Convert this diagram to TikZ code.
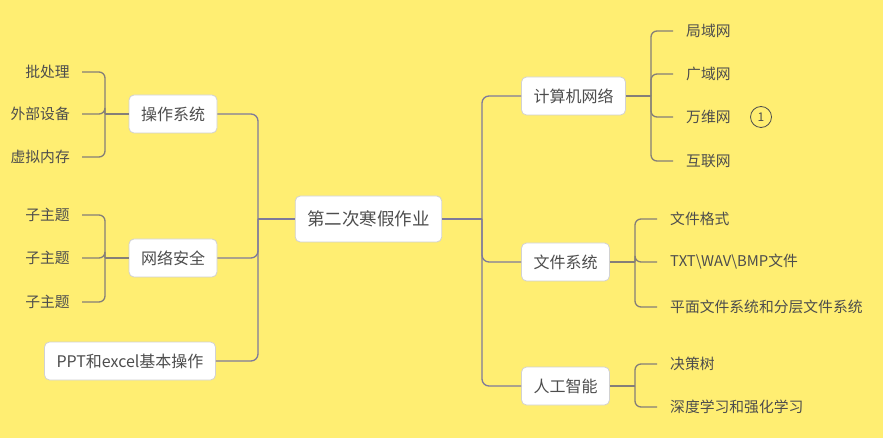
\documentclass[tikz,border=0pt]{standalone}
\usepackage{fontspec}
\setmainfont{Noto Sans CJK SC}
\definecolor{bgyellow}{HTML}{FFEE72}
\definecolor{txtgray}{HTML}{4D4D4D}
\definecolor{mainline}{HTML}{7E7A9A}
\definecolor{leafline}{HTML}{857F78}
\tikzset{
  topic/.style={draw=black!18,fill=white,rounded corners=5pt,line width=.8pt,
    text=txtgray,inner xsep=12pt,minimum height=38pt,font=\fontsize{16}{19}\selectfont},
  roottopic/.style={topic,minimum height=46pt,font=\fontsize{17.5}{20}\selectfont},
  leafE/.style={anchor=east,text=txtgray,inner xsep=12pt,font=\fontsize{14.8}{17}\selectfont},
  leafW/.style={anchor=west,text=txtgray,inner xsep=13pt,font=\fontsize{14.8}{17}\selectfont},
  mainconn/.style={draw=mainline,line width=1.3pt,rounded corners=7pt},
  leafconn/.style={draw=leafline,line width=1.3pt,rounded corners=6pt}
}
\begin{document}
\begin{tikzpicture}[x=1pt,y=-1pt]
  \fill[bgyellow] (0,0) rectangle (883,438);
  \useasboundingbox (0,0) rectangle (883,438);
  % central topic and main topics
  \node[roottopic] (root) at (368.5,219) {第二次寒假作业};
  \node[topic] (os) at (173,114) {操作系统};
  \node[topic] (sec) at (173,258) {网络安全};
  \node[topic] (ppt) at (130,361) {PPT和excel基本操作};
  \node[topic] (net) at (573.5,96) {计算机网络};
  \node[topic] (fs) at (565.5,262) {文件系统};
  \node[topic] (ai) at (565.5,386) {人工智能};
  \coordinate (lj) at (258,219);
  \coordinate (rj) at (482,219);
  \draw[mainconn] (root.west) -- (lj);
  \draw[mainconn] (root.east) -- (rj);
  \foreach \n in {os,sec,ppt} \draw[mainconn] (lj) |- (\n.east);
  \foreach \n in {net,fs,ai} \draw[mainconn] (rj) |- (\n.west);
  % left subtopics
  \coordinate (osj) at (105,114);
  \coordinate (secj) at (105,258);
  \draw[leafconn] (os.west) -- (osj);
  \draw[leafconn] (sec.west) -- (secj);
  \foreach \y/\lab/\n in {72/批处理/a,114/外部设备/b,157/虚拟内存/c} {
    \node[leafE] (os\n) at (82,\y) {\lab};
    \draw[leafconn] (osj) |- (os\n.east);
  }
  \foreach \y/\lab/\n in {215/子主题/a,258/子主题/b,302/子主题/c} {
    \node[leafE] (sec\n) at (82,\y) {\lab};
    \draw[leafconn] (secj) |- (sec\n.east);
  }
  % right subtopics
  \coordinate (netj) at (651,96);
  \coordinate (fsj) at (635,262);
  \coordinate (aij) at (635,386);
  \draw[leafconn] (net.east) -- (netj);
  \draw[leafconn] (fs.east) -- (fsj);
  \draw[leafconn] (ai.east) -- (aij);
  \foreach \y/\lab/\n in {31/局域网/a,74/广域网/b,117/万维网/c,161/互联网/d} {
    \node[leafW] (net\n) at (673,\y) {\lab};
    \draw[leafconn] (netj) |- (net\n.west);
  }
  \foreach \y/\lab/\n in {219/文件格式/a,262/TXT\textbackslash WAV\textbackslash BMP文件/b,307/平面文件系统和分层文件系统/c} {
    \node[leafW] (fs\n) at (657,\y) {\lab};
    \draw[leafconn] (fsj) |- (fs\n.west);
  }
  \foreach \y/\lab/\n in {364/决策树/a,407/深度学习和强化学习/b} {
    \node[leafW] (ai\n) at (657,\y) {\lab};
    \draw[leafconn] (aij) |- (ai\n.west);
  }
  \node[circle,draw=txtgray,line width=.8pt,minimum size=21pt,inner sep=0pt,text=txtgray,
    font=\fontsize{12}{14}\selectfont] (mark) at (761,117) {1};
\end{tikzpicture}
\end{document}
